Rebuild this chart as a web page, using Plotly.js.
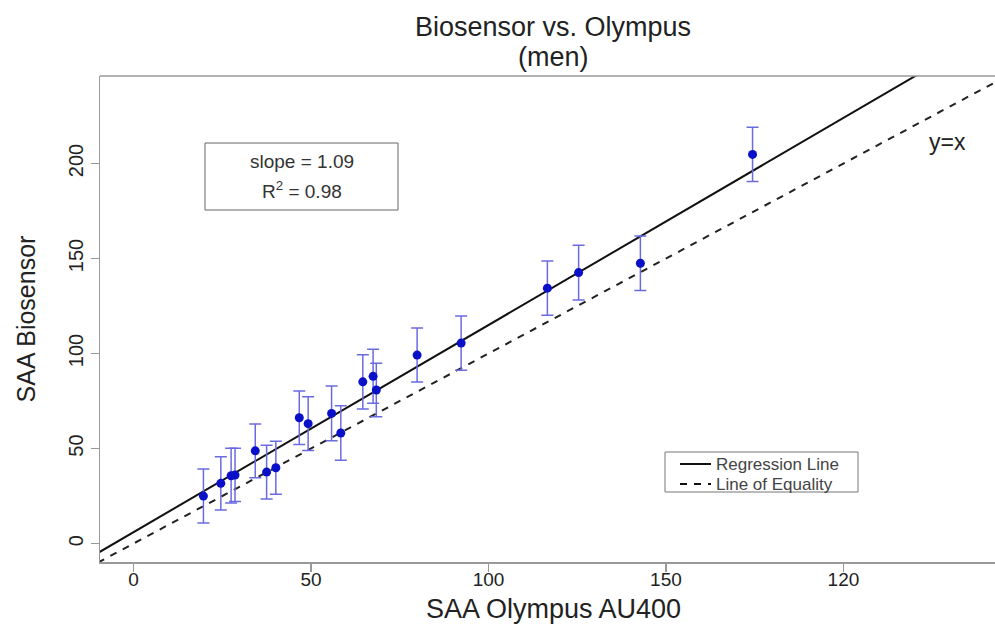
<!DOCTYPE html>
<html>
<head>
<meta charset="utf-8">
<script src="https://cdn.plot.ly/plotly-3.0.1.min.js"></script>
<style>html,body{margin:0;padding:0;background:#fff}#chart{width:995px;height:628px}</style>
</head>
<body>
<div id="chart"></div>
<script>
// Data
const olympusX = [19.7, 24.6, 27.5, 28.6, 34.3, 37.5, 40.1, 46.7, 49.2, 55.8, 58.4, 64.6, 67.5, 68.4, 79.9, 92.3, 116.6, 125.4, 142.8, 174.4];
const biosensorY = [25.0, 31.7, 35.7, 36.1, 48.8, 37.6, 39.9, 66.2, 63.1, 68.5, 58.2, 85.1, 88.0, 80.8, 99.2, 105.5, 134.4, 142.6, 147.5, 204.8];
const errorY = [14.2, 14.0, 14.4, 14.0, 14.1, 14.2, 14.0, 14.1, 14.1, 14.4, 14.3, 14.3, 14.2, 14.1, 14.2, 14.3, 14.3, 14.4, 14.3, 14.3];

const regSlope = 1.09;
const regIntercept = 6.0;
const lineX = [-10, 250];
const regY = lineX.map(v => regIntercept + regSlope * v);
const eqY = lineX.slice();

const xTickVals = [0, 50, 100, 150, 200];
const xTickText = ["0", "50", "100", "150", "120"];
const yTickVals = [0, 50, 100, 150, 200];
const yTickText = ["0", "50", "100", "150", "200"];
const legendLabels = ["Regression Line", "Line of Equality"];

const FONT = "Liberation Sans, Arial, Helvetica, sans-serif";

// pixel -> paper helpers (plot area: l=100, t=76, w=895, h=486)
const px = p => (p - 100) / 895;
const py = p => (562 - p) / 486;

const traces = [
  {
    x: lineX, y: regY, mode: "lines", name: legendLabels[0], showlegend: false,
    line: {color: "#111", width: 2}, hoverinfo: "skip"
  },
  {
    x: lineX, y: eqY, mode: "lines", name: legendLabels[1], showlegend: false,
    line: {color: "#222", width: 2, dash: "7px,7px"}, hoverinfo: "skip"
  },
  {
    x: olympusX, y: biosensorY, mode: "markers", showlegend: false,
    marker: {color: "#0a10c8", size: 9},
    error_y: {type: "data", array: errorY, visible: true, color: "#6b6be0", thickness: 1.5, width: 6}
  }
];

const layout = {
  width: 995, height: 628,
  margin: {l: 100, r: 0, t: 76, b: 66},
  paper_bgcolor: "#fff", plot_bgcolor: "#fff",
  font: {family: FONT, color: "#222"},
  showlegend: false,
  xaxis: {
    range: [-9.44, 242.7], showgrid: false, zeroline: false,
    showline: true, linecolor: "#999", linewidth: 1.5,
    ticks: "outside", ticklen: 8, tickcolor: "#999", tickwidth: 1.5,
    tickvals: xTickVals, ticktext: xTickText, ticklabelstandoff: -8,
    tickfont: {family: FONT, size: 19, color: "#222"}
  },
  yaxis: {
    range: [-9.7, 246.05], showgrid: false, zeroline: false,
    showline: true, linecolor: "#999", linewidth: 1.5,
    ticks: "outside", ticklen: 8, tickcolor: "#999", tickwidth: 1.5,
    tickvals: yTickVals, ticktext: yTickText, tickangle: -90,
    tickfont: {family: FONT, size: 20, color: "#222"},
    title: {text: "SAA Biosensor", font: {family: FONT, size: 25, color: "#222"}, standoff: 22}
  },
  shapes: [
    {type: "line", xref: "paper", yref: "paper", x0: 0, x1: 1, y0: 1, y1: 1, line: {color: "#999", width: 1.5}},
    // stats box
    {type: "rect", xref: "paper", yref: "paper", x0: px(205), x1: px(398), y0: py(210), y1: py(143),
     line: {color: "#666", width: 1}, fillcolor: "#fff"},
    // legend box and samples
    {type: "rect", xref: "paper", yref: "paper", x0: px(665), x1: px(858), y0: py(492), y1: py(452),
     line: {color: "#777", width: 1}, fillcolor: "#fff"},
    {type: "line", xref: "paper", yref: "paper", x0: px(680), x1: px(711), y0: py(464), y1: py(464),
     line: {color: "#111", width: 2}},
    {type: "line", xref: "paper", yref: "paper", x0: px(680), x1: px(711), y0: py(484), y1: py(484),
     line: {color: "#111", width: 2, dash: "7px,7px"}}
  ],
  annotations: [
    {xref: "paper", yref: "paper", x: px(553), y: py(27), xanchor: "center", yanchor: "middle",
     text: "Biosensor vs. Olympus", showarrow: false, font: {family: FONT, size: 27, color: "#222"}},
    {xref: "paper", yref: "paper", x: px(553), y: py(57), xanchor: "center", yanchor: "middle",
     text: "(men)", showarrow: false, font: {family: FONT, size: 27, color: "#222"}},
    {xref: "paper", yref: "paper", x: px(553), y: py(609), xanchor: "center", yanchor: "middle",
     text: "SAA Olympus AU400", showarrow: false, font: {family: FONT, size: 27, color: "#222"}},
    {xref: "paper", yref: "paper", x: px(302), y: py(161), xanchor: "center", yanchor: "middle",
     text: "slope = 1.09", showarrow: false, font: {family: FONT, size: 19, color: "#333"}},
    {xref: "paper", yref: "paper", x: px(302), y: py(190), xanchor: "center", yanchor: "middle",
     text: "R<sup>2</sup> = 0.98", showarrow: false, font: {family: FONT, size: 19, color: "#333"}},
    {xref: "paper", yref: "paper", x: px(714), y: py(464), xanchor: "left", yanchor: "middle",
     text: legendLabels[0], showarrow: false, font: {family: FONT, size: 17, color: "#444"}},
    {xref: "paper", yref: "paper", x: px(714), y: py(484), xanchor: "left", yanchor: "middle",
     text: legendLabels[1], showarrow: false, font: {family: FONT, size: 17, color: "#444"}},
    {xref: "x", yref: "y", x: 229.4, y: 211.3, text: "y=x", showarrow: false,
     font: {family: FONT, size: 23, color: "#222"}}
  ]
};

Plotly.newPlot("chart", traces, layout, {displayModeBar: false, staticPlot: true});
</script>
</body>
</html>
